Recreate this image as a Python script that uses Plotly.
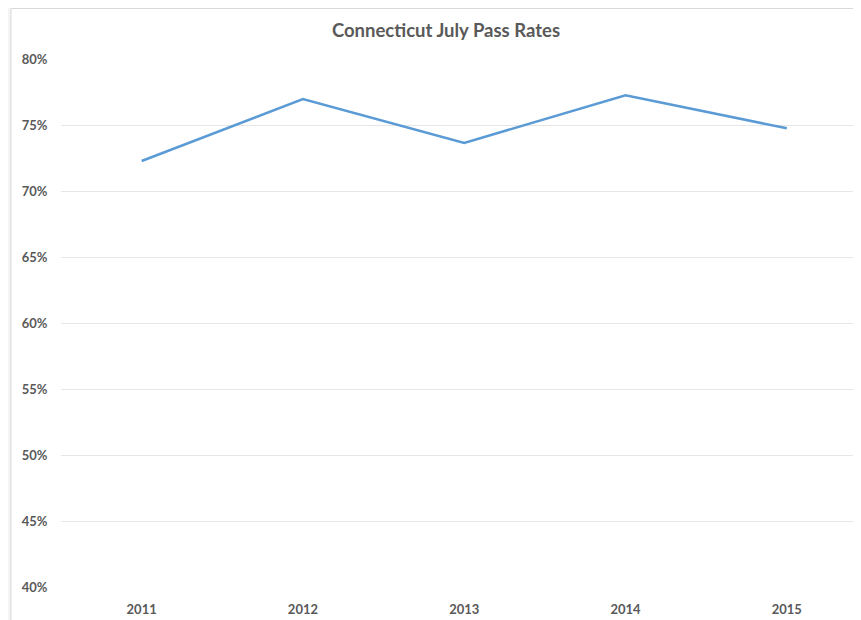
import plotly.graph_objects as go

years = ["2011", "2012", "2013", "2014", "2015"]
pass_rates = [0.7227, 0.7697, 0.7364, 0.7725, 0.7475]
y_ticks = [0.40, 0.45, 0.50, 0.55, 0.60, 0.65, 0.70, 0.75, 0.80]
y_tick_labels = ["40%", "45%", "50%", "55%", "60%", "65%", "70%", "75%", "80%"]

# page body has an 8px margin; figure sized to fill the rest of the window
W, H = 853, 612
L, R, T, B = 53, 0, 51, 33
pw = W - L - R
ph = H - T - B

fig = go.Figure()
fig.add_trace(go.Scatter(
    x=years, y=pass_rates, mode="lines",
    line=dict(color="#5b9bd5", width=2.5),
    hoverinfo="skip",
))

# white chart area with border (extends beyond viewport at right/bottom)
fig.add_shape(
    type="rect", xref="paper", yref="paper", layer="below",
    x0=(3 - L) / pw, x1=1.1, y0=-0.2, y1=(H - B - 0.5) / ph,
    fillcolor="white", line=dict(color="#d9d9d9", width=1),
)

fig.update_layout(
    width=W, height=H,
    margin=dict(l=L, r=R, t=T, b=B, pad=0),
    paper_bgcolor="#f4f4f4",
    plot_bgcolor="rgba(0,0,0,0)",
    showlegend=False,
    title=dict(
        text="Connecticut July Pass Rates",
        x=438 / W, xref="container", xanchor="center",
        y=1 - 23 / H, yref="container", yanchor="middle",
        font=dict(family="Lato", size=18.5, color="#595959", weight="bold"),
    ),
    xaxis=dict(
        type="category", range=[-0.5, 4.46],
        showgrid=False, zeroline=False, showline=False,
        ticks="outside", ticklen=10, tickcolor="rgba(0,0,0,0)",
        tickfont=dict(family="Lato", size=13, color="#595959", weight="bold"),
        fixedrange=True,
    ),
    yaxis=dict(
        range=[0.40, 0.80], tickvals=y_ticks, ticktext=y_tick_labels,
        showgrid=True, gridcolor="#e6e6e6", gridwidth=1,
        zeroline=False, showline=False,
        ticks="outside", ticklen=10, tickcolor="rgba(0,0,0,0)",
        tickfont=dict(family="Lato", size=13, color="#595959", weight="bold"),
        fixedrange=True,
    ),
)

fig.write_html("out.html")
